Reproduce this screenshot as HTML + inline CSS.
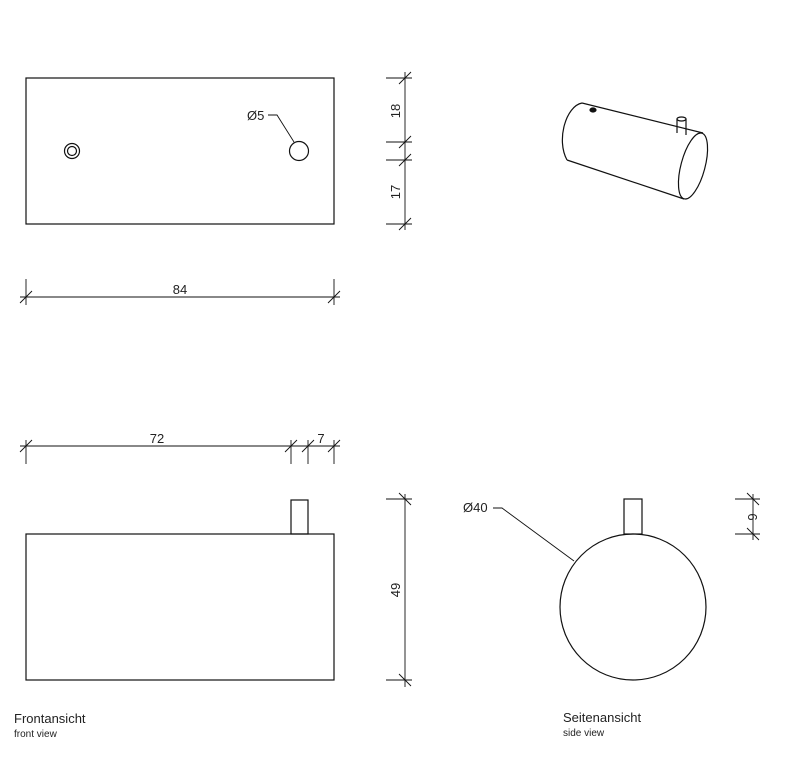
<!DOCTYPE html>
<html><head><style>
html,body{margin:0;padding:0;background:#fff;}
svg{display:block;}
text{font-family:"Liberation Sans",sans-serif;fill:#222;}
</style></head><body>
<svg width="792" height="762" viewBox="0 0 792 762" xmlns="http://www.w3.org/2000/svg">
<g fill="none" stroke="#111" stroke-width="1.2">
<rect x="26" y="78" width="308" height="146"/>
<circle cx="72" cy="151" r="7.5"/>
<circle cx="72" cy="151" r="4.5"/>
<circle cx="299" cy="151" r="9.5"/>
<polyline points="294,142 277,115 268,115" stroke-width="0.9"/>
<g stroke-width="0.9">
<line x1="405" y1="72" x2="405" y2="230"/>
<line x1="386" y1="78" x2="412" y2="78"/>
<line x1="386" y1="142" x2="412" y2="142"/>
<line x1="386" y1="160" x2="412" y2="160"/>
<line x1="386" y1="224" x2="412" y2="224"/>
<line x1="399" y1="84" x2="411" y2="72"/>
<line x1="399" y1="148" x2="411" y2="136"/>
<line x1="399" y1="166" x2="411" y2="154"/>
<line x1="399" y1="230" x2="411" y2="218"/>
<line x1="20" y1="297" x2="340" y2="297"/>
<line x1="26" y1="279" x2="26" y2="305"/>
<line x1="334" y1="279" x2="334" y2="305"/>
<line x1="20" y1="303" x2="32" y2="291"/>
<line x1="328" y1="303" x2="340" y2="291"/>
<line x1="20" y1="446" x2="340" y2="446"/>
<line x1="26" y1="440" x2="26" y2="464"/>
<line x1="291" y1="440" x2="291" y2="464"/>
<line x1="308" y1="440" x2="308" y2="464"/>
<line x1="334" y1="440" x2="334" y2="464"/>
<line x1="20" y1="452" x2="32" y2="440"/>
<line x1="285" y1="452" x2="297" y2="440"/>
<line x1="302" y1="452" x2="314" y2="440"/>
<line x1="328" y1="452" x2="340" y2="440"/>
<line x1="405" y1="494" x2="405" y2="687"/>
<line x1="386" y1="499" x2="412" y2="499"/>
<line x1="386" y1="680" x2="412" y2="680"/>
<line x1="399" y1="493" x2="411" y2="505"/>
<line x1="399" y1="674" x2="411" y2="686"/>
<line x1="753" y1="494" x2="753" y2="540"/>
<line x1="735" y1="499" x2="760" y2="499"/>
<line x1="735" y1="534" x2="760" y2="534"/>
<line x1="747" y1="493" x2="759" y2="505"/>
<line x1="747" y1="528" x2="759" y2="540"/>
<polyline points="493,508 502,508 574,561"/>
</g>
<rect x="26" y="534" width="308" height="146"/>
<rect x="291" y="500" width="17" height="34"/>
<circle cx="633" cy="607" r="73"/>
<rect x="624" y="499" width="18" height="35"/>
<path d="M582,103 L703,133"/>
<path d="M567,160 L684,199"/>
<path d="M582,103 C566,106 556,140 567,160"/>
<ellipse cx="693" cy="166" rx="12" ry="34" transform="rotate(15 693 166)"/>
<ellipse cx="593" cy="110" rx="3" ry="2" fill="#111"/>
<path d="M677,119 L677,133 M686,119 L686,135"/>
<ellipse cx="681.5" cy="119" rx="4.5" ry="2"/>
</g>
<text x="247" y="120" font-size="13">Ø5</text>
<text x="400" y="111" font-size="13" transform="rotate(-90 400 111)" text-anchor="middle">18</text>
<text x="400" y="192" font-size="13" transform="rotate(-90 400 192)" text-anchor="middle">17</text>
<text x="180" y="294" font-size="13" text-anchor="middle">84</text>
<text x="157" y="443" font-size="13" text-anchor="middle">72</text>
<text x="321" y="443" font-size="13" text-anchor="middle">7</text>
<text x="400" y="590" font-size="13" transform="rotate(-90 400 590)" text-anchor="middle">49</text>
<text x="748" y="517" font-size="13" transform="rotate(90 748 517)" text-anchor="middle">6</text>
<text x="463" y="512" font-size="13">Ø40</text>
<text x="14" y="723" font-size="13">Frontansicht</text>
<text x="14" y="737" font-size="10">front view</text>
<text x="563" y="722" font-size="13">Seitenansicht</text>
<text x="563" y="736" font-size="10">side view</text>
</svg>
</body></html>
